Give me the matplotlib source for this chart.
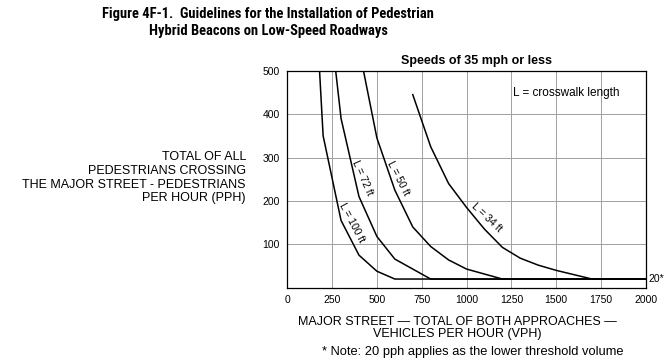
import matplotlib
matplotlib.use("Agg")
import matplotlib.pyplot as plt
from matplotlib import font_manager as fm

plt.rcParams['font.family'] = ['Liberation Sans', 'DejaVu Sans']

# curves (vph, pph)
l100_x = [180, 200, 300, 400, 500, 600, 2000]
l100_y = [500, 350, 155, 75, 38, 20, 20]
l72_x = [270, 300, 400, 500, 600, 800, 2000]
l72_y = [500, 390, 210, 118, 66, 20, 20]
l50_x = [425, 500, 600, 700, 800, 900, 1000, 1200, 2000]
l50_y = [500, 345, 225, 140, 95, 64, 43, 20, 20]
l34_x = [700, 800, 900, 1000, 1100, 1200, 1300, 1400, 1500, 1600, 1700, 2000]
l34_y = [445, 325, 240, 185, 135, 93, 68, 52, 40, 30, 20, 20]

curve_labels = ['L = 100 ft', 'L = 72 ft', 'L = 50 ft', 'L = 34 ft']
x_ticks = [0, 250, 500, 750, 1000, 1250, 1500, 1750, 2000]
y_ticks = [100, 200, 300, 400, 500]

# a narrow bold face for the title, if there is one
files = {f.fname.split('/')[-1]: f.fname for f in fm.fontManager.ttflist}
title_font = None
for want in ['RobotoCondensed-Bold.ttf', 'LiberationSansNarrow-Bold.ttf',
             'DejaVuSansCondensed-Bold.ttf']:
    if want in files:
        title_font = fm.FontProperties(fname=files[want])
        break
if title_font is None:
    title_font = fm.FontProperties(family='Liberation Sans', weight='bold')

fig = plt.figure(figsize=(6.72, 3.61), dpi=100)
ax = fig.add_axes([0.4275, 0.203, 0.5335, 0.601])

for xs, ys in [(l100_x, l100_y), (l72_x, l72_y), (l50_x, l50_y), (l34_x, l34_y)]:
    ax.plot(xs, ys, color='black', lw=1.1, zorder=3)

ax.set_xlim(0, 2000)
ax.set_ylim(0, 500)
ax.set_xticks(x_ticks)
ax.set_yticks(y_ticks)
ax.tick_params(length=0, labelsize=7.5)
ax.tick_params(axis='y', pad=5.5)
ax.tick_params(axis='x', pad=5)
ax.grid(True, color='#a0a0a0', lw=0.7)
for s in ax.spines.values():
    s.set_linewidth(0.9)

# labels along the curves
lab_pos = [(361, 149, -62), (417, 253, -66), (618, 253, -63), (1114, 161, -43)]
for txt, (lx, ly, rot) in zip(curve_labels, lab_pos):
    ax.text(lx, ly, txt, rotation=rot, fontsize=7.5, ha='center', va='center',
            rotation_mode='anchor')

ax.text(1260, 448, 'L = crosswalk length', fontsize=8.5, ha='left', va='center')
ax.text(2015, 20, '20*', fontsize=7.5, ha='left', va='center', clip_on=False)

title = fig.text(0.399, 0.938,
                 'Figure 4F-1.  Guidelines for the Installation of Pedestrian\n'
                 'Hybrid Beacons on Low-Speed Roadways',
                 fontproperties=title_font, fontsize=11.5,
                 ha='center', va='center', linespacing=1.25)
fig.text(0.7094, 0.832, 'Speeds of 35 mph or less', weight='bold', fontsize=9,
         ha='center', va='center')
fig.text(0.366, 0.508,
         'TOTAL OF ALL\nPEDESTRIANS CROSSING\nTHE MAJOR STREET - PEDESTRIANS\nPER HOUR (PPH)',
         fontsize=9, ha='right', va='center', multialignment='right', linespacing=1.2)
fig.text(0.68, 0.0914,
         'MAJOR STREET \u2014 TOTAL OF BOTH APPROACHES \u2014\nVEHICLES PER HOUR (VPH)',
         fontsize=9, ha='center', va='center', linespacing=1.1)
fig.text(0.704, 0.025, '* Note: 20 pph applies as the lower threshold volume',
         fontsize=9.3, ha='center', va='center')

# fit the title to the width it has in the original (about 332 px),
# but do not let it get much smaller than the original lettering
fig.canvas.draw()
w = title.get_window_extent().width
title.set_fontsize(max(10.0, min(12.0, 11.5 * 332 / w)))

fig.savefig('out.png', dpi=100)
